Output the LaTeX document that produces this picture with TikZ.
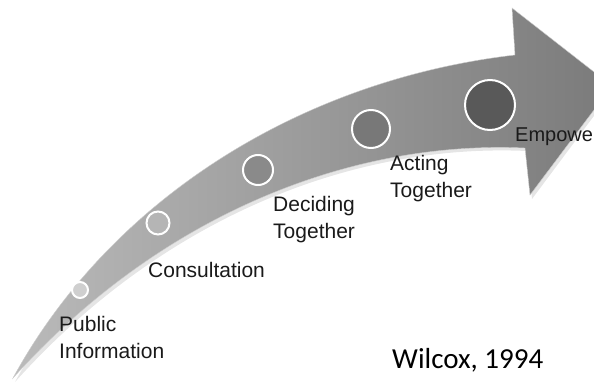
\documentclass[tikz,border=0pt]{standalone}
\usepackage{fontspec}
\setmainfont{Liberation Sans}
\newfontfamily\wilcoxfont{Carlito}
\usepackage{tikz}
\usetikzlibrary{positioning}

\definecolor{stepone}{HTML}{CFCFCF}
\definecolor{steptwo}{HTML}{B5B5B5}
\definecolor{stepthree}{HTML}{8A8A8A}
\definecolor{stepfour}{HTML}{787878}
\definecolor{stepfive}{HTML}{595959}
\definecolor{labelgray}{HTML}{1A1A1A}

\begin{document}
\begin{tikzpicture}[x=1pt,y=-1pt]

\tikzset{
  stage/.style={circle, draw=white, line width=2pt, inner sep=0pt, minimum size=#1},
  stagelabel/.style={anchor=base west, inner sep=0pt, align=left, text=labelgray,
    font=\fontsize{21}{27}\selectfont},
}

\useasboundingbox (0,0) rectangle (594,385);
\clip (0,0) rectangle (594,385);

%Curved arrow: shadow, then body

\fill[black, opacity=0.10] (15,382) .. controls (112,203) and (302,83) .. (517,58)
  -- (514,11) -- (614,89) -- (532,199) -- (527,151)
  .. controls (352,143) and (162,218) .. (15,382) -- cycle;

\path[left color=black!27, right color=black!52, draw=black!20]
  (13,378) .. controls (110,200) and (300,80) .. (515,55)
  -- (512,8) -- (612,86) -- (530,195) -- (525,148)
  .. controls (350,140) and (160,215) .. (13,378) -- cycle;

%Stages along the arrow

\node (c_public)  [stage=16pt, fill=stepone]   at (80,290) {};
\node (c_consult) [stage=23pt, fill=steptwo]   at (158,223) {};
\node (c_decide)  [stage=30pt, fill=stepthree] at (258,170) {};
\node (c_act)     [stage=38pt, fill=stepfour]  at (371,129) {};
\node (c_empower) [stage=50pt, fill=stepfive]  at (490,105) {};

%Labels (base = last line)

\node (public_text)  [stagelabel] at (59,358)  {Public\\Information};
\node (consult_text) [stagelabel] at (148,277) {Consultation};
\node (decide_text)  [stagelabel] at (273,238) {Deciding\\Together};
\node (act_text)     [stagelabel] at (390,197) {Acting\\Together};
\node (empower_text) [stagelabel, font=\fontsize{20}{24}\selectfont] at (515,142) {Empowe};

\node (wilcox_text) [anchor=base west, inner sep=0pt, text=black,
  font=\wilcoxfont\fontsize{29}{32}\selectfont] at (392,368) {Wilcox, 1994};

\end{tikzpicture}
\end{document}
